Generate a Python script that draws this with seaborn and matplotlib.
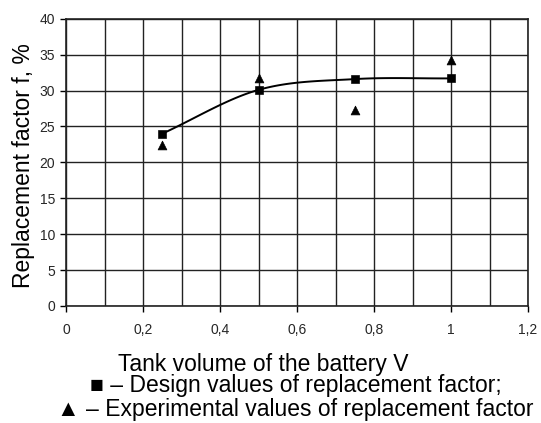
import matplotlib
matplotlib.use("Agg")
import matplotlib.pyplot as plt
import seaborn as sns
import pandas as pd
import numpy as np

# data
volume = [0.25, 0.5, 0.75, 1.0]
design_f = [24.0, 30.1, 31.6, 31.7]
experimental_f = [22.4, 31.8, 27.3, 34.2]

x_ticks = [0, 0.2, 0.4, 0.6, 0.8, 1.0, 1.2]
x_tick_labels = ["0", "0,2", "0,4", "0,6", "0,8", "1", "1,2"]
y_ticks = [0, 5, 10, 15, 20, 25, 30, 35, 40]


def smooth_curve(xs, ys, n=40):
    # Catmull-Rom style smoothing, like a spreadsheet "smoothed line"
    xs = np.asarray(xs, float)
    ys = np.asarray(ys, float)
    px = np.concatenate([[2 * xs[0] - xs[1]], xs, [2 * xs[-1] - xs[-2]]])
    py = np.concatenate([[2 * ys[0] - ys[1]], ys, [2 * ys[-1] - ys[-2]]])
    out_x, out_y = [], []
    t = np.linspace(0, 1, n)
    for i in range(1, len(px) - 2):
        for arr, out in ((px, out_x), (py, out_y)):
            p0, p1, p2, p3 = arr[i - 1], arr[i], arr[i + 1], arr[i + 2]
            seg = 0.5 * (2 * p1 + (-p0 + p2) * t
                         + (2 * p0 - 5 * p1 + 4 * p2 - p3) * t ** 2
                         + (-p0 + 3 * p1 - 3 * p2 + p3) * t ** 3)
            out.extend(seg)
    return np.array(out_x), np.array(out_y)


sns.set_theme(style="whitegrid")
plt.rcParams["font.family"] = ["Liberation Sans", "DejaVu Sans"]

fig = plt.figure(figsize=(5.41, 4.23), dpi=100)
ax = fig.add_axes([0.122, 0.2766, 0.854, 0.679])

cx, cy = smooth_curve(volume, design_f)
curve = pd.DataFrame({"V": cx, "f": cy})
sns.lineplot(data=curve, x="V", y="f", ax=ax, color="black", linewidth=1.4,
             sort=False, estimator=None)

df = pd.DataFrame({"V": volume, "design": design_f, "exp": experimental_f})
sns.scatterplot(data=df, x="V", y="design", ax=ax, marker="s", s=32,
                color="black", edgecolor="black", zorder=5)
sns.scatterplot(data=df, x="V", y="exp", ax=ax, marker="^", s=40,
                color="black", edgecolor="black", zorder=5)

ax.set_xlim(0, 1.2)
ax.set_ylim(0, 40)
ax.set_xticks(x_ticks)
ax.set_xticklabels(x_tick_labels)
ax.set_xticks(np.arange(0.1, 1.2, 0.2), minor=True)
ax.set_yticks(y_ticks)
ax.grid(True, which="both", color="#222222", linewidth=1.0)
ax.tick_params(axis="both", which="major", labelsize=10, length=4,
               width=1, color="black", direction="out")
ax.tick_params(axis="x", which="major", pad=8)
ax.tick_params(axis="y", which="major", pad=4)
ax.tick_params(axis="x", which="minor", length=0)
ax.tick_params(left=True, bottom=True)
for s in ax.spines.values():
    s.set_color("#222222")
    s.set_linewidth(1.2)
ax.set_facecolor("white")

ax.set_xlabel("Tank volume of the battery V", fontsize=16.5, color="black")
ax.set_ylabel("Replacement factor f, %", fontsize=16.5, color="black")
ax.xaxis.set_label_coords(0.426, -0.165)
ax.yaxis.set_label_coords(-0.068, 0.49)

fig.text(0.547, 0.088, "\u25a0 \u2013 Design values of replacement factor;",
         ha="center", va="center", fontsize=16.5, color="black")
fig.text(0.545, 0.033, "\u25b2 \u2013 Experimental values of replacement factor",
         ha="center", va="center", fontsize=16.5, color="black")

fig.savefig("out.png", dpi=100, facecolor="white")
